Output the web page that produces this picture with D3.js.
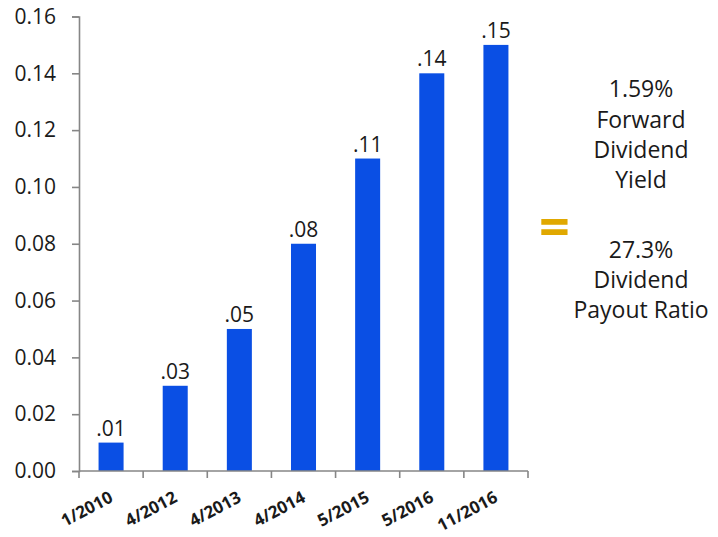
<!DOCTYPE html>
<html>
<head>
<meta charset="utf-8">
<script src="https://cdn.jsdelivr.net/npm/d3@7"></script>
<style>
  html, body { margin: 0; padding: 0; background: #ffffff; }
  svg { display: block; }
  text { font-family: "Open Sans", "Noto Sans", sans-serif; }
</style>
</head>
<body>
<svg id="chart" width="718" height="537"></svg>
<script>
const categories = ["1/2010", "4/2012", "4/2013", "4/2014", "5/2015", "5/2016", "11/2016"];
const dividends = [0.01, 0.03, 0.05, 0.08, 0.11, 0.14, 0.15];
const yTicks = [0, 0.02, 0.04, 0.06, 0.08, 0.10, 0.12, 0.14, 0.16];
const sideTopLines = ["1.59%", "Forward", "Dividend", "Yield"];
const sideBottomLines = ["27.3%", "Dividend", "Payout Ratio"];

const svg = d3.select("#chart");
const plotLeft = 79, plotRight = 528, plotTop = 16.5, plotBottom = 471;

const x = d3.scaleBand().domain(categories).range([plotLeft, plotRight]).padding(0);
const xBar = d3.scaleBand().domain(categories).range([plotLeft, plotRight])
  .paddingInner(0.61).paddingOuter(0.305);
const y = d3.scaleLinear().domain([0, 0.16]).range([plotBottom, plotTop]);

const axisColor = "#868686";
const barColor = "#0a4fe4";

// bars
svg.append("g").selectAll("rect").data(dividends).join("rect")
  .attr("x", (d, i) => xBar(categories[i]))
  .attr("width", xBar.bandwidth())
  .attr("y", d => y(d))
  .attr("height", d => y(0) - y(d))
  .attr("fill", barColor);

// value labels
const fmt = d => d3.format(".2f")(d).replace(/^0/, "");
svg.append("g").selectAll("text").data(dividends).join("text")
  .attr("x", (d, i) => xBar(categories[i]) + xBar.bandwidth() / 2)
  .attr("y", d => y(d) - 7)
  .attr("text-anchor", "middle")
  .attr("font-size", 21)
  .attr("fill", "#1a1a1a")
  .text(fmt);

// y axis
const yAxis = svg.append("g")
  .attr("transform", `translate(${plotLeft},0)`)
  .call(d3.axisLeft(y).tickValues(yTicks).tickFormat(d3.format(".2f")).tickSizeOuter(0).tickSize(7).tickPadding(16));
yAxis.select(".domain").attr("stroke", axisColor).attr("stroke-width", 1.6);
yAxis.selectAll(".tick line").attr("stroke", axisColor).attr("stroke-width", 1.6);
yAxis.selectAll(".tick text")
  .attr("font-size", 21)
  .attr("fill", "#1a1a1a")
  .style("font-family", "'Open Sans', sans-serif");

// x axis with ticks at category boundaries
const xg = svg.append("g").attr("transform", `translate(0,${plotBottom})`);
xg.append("line").attr("x1", plotLeft).attr("x2", plotRight).attr("y1", 0).attr("y2", 0)
  .attr("stroke", axisColor).attr("stroke-width", 1.6);
const boundaries = categories.map(c => x(c)).concat([x(categories[categories.length - 1]) + x.bandwidth()]);
xg.selectAll("line.tk").data(boundaries).join("line").attr("class", "tk")
  .attr("x1", d => d).attr("x2", d => d).attr("y1", 0).attr("y2", 7)
  .attr("stroke", axisColor).attr("stroke-width", 1.6);
xg.selectAll("text").data(categories).join("text")
  .attr("transform", d => `translate(${x(d) + x.bandwidth() / 2 + 3},${30}) rotate(-28)`)
  .attr("text-anchor", "end")
  .attr("font-size", 17)
  .attr("font-weight", 700)
  .attr("fill", "#1a1a1a")
  .text(d => d);

// side annotation
const cx = 641;
const sideTop = [97, 128, 158, 188];
const sideBot = [258, 288, 318];
svg.append("g").selectAll("text").data(sideTopLines).join("text")
  .attr("x", cx).attr("y", (d, i) => sideTop[i])
  .attr("text-anchor", "middle").attr("font-size", 23).attr("fill", "#1a1a1a")
  .text(d => d);
svg.append("g").selectAll("text").data(sideBottomLines).join("text")
  .attr("x", cx).attr("y", (d, i) => sideBot[i])
  .attr("text-anchor", "middle").attr("font-size", 23).attr("fill", "#1a1a1a")
  .text(d => d);

// equals sign
svg.append("text")
  .attr("x", 554.5).attr("y", 246)
  .attr("text-anchor", "middle")
  .attr("font-size", 54)
  .attr("font-weight", 700)
  .attr("fill", "#e0a800")
  .text("=");
</script>
</body>
</html>
